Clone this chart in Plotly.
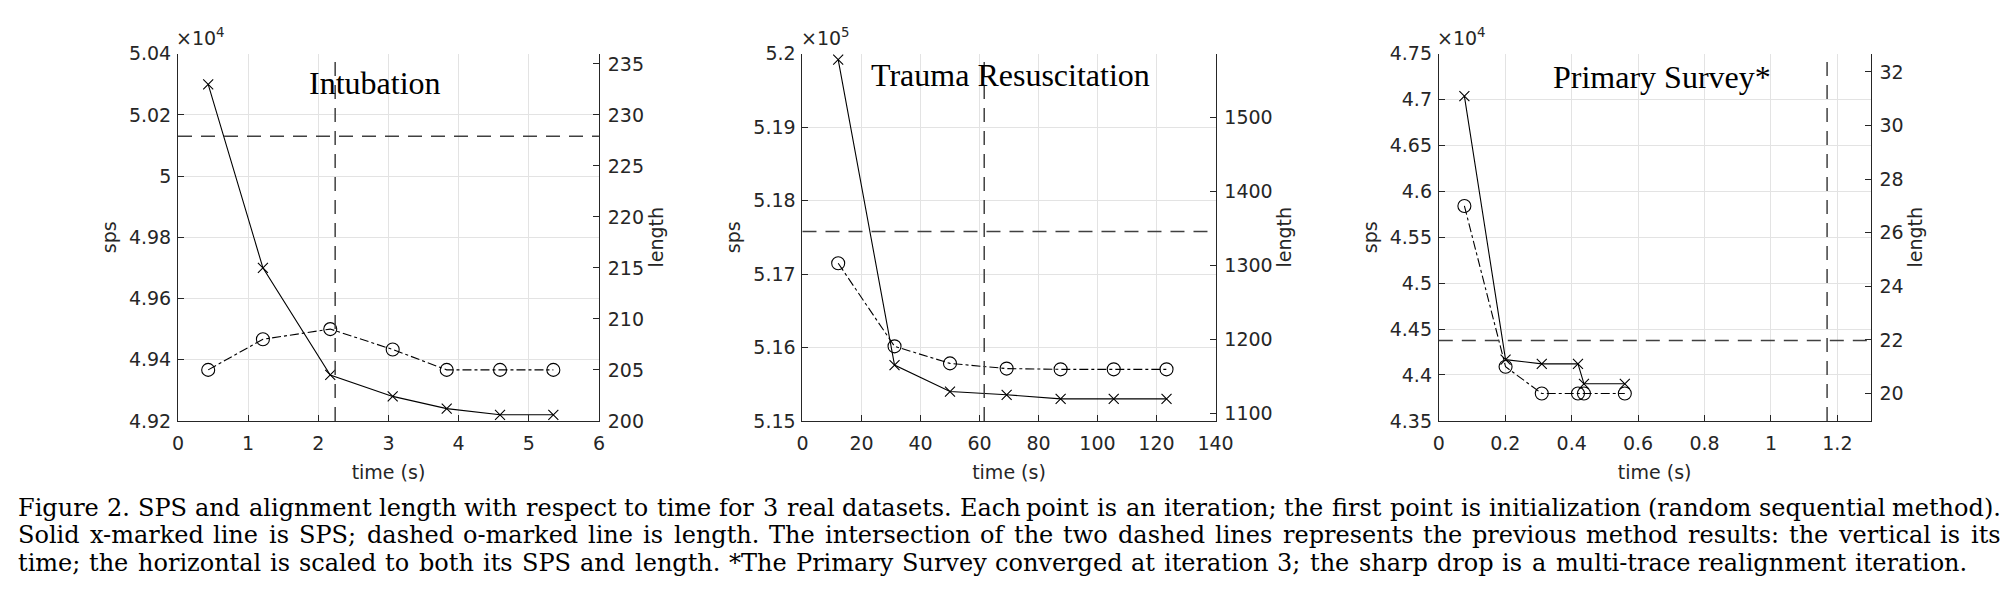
import plotly.graph_objects as go

W, H = 2013, 607

# ---------------- data ----------------
panel_titles = ["Intubation", "Trauma Resuscitation", "Primary Survey*"]
exponents = ["×10<sup>4</sup>", "×10<sup>5</sup>", "×10<sup>4</sup>"]

times1 = [0.43, 1.21, 2.17, 3.06, 3.83, 4.59, 5.35]
sps1 = [50300, 49700, 49350, 49280, 49240, 49220, 49220]
len1 = [205, 208, 209, 207, 205, 205, 205]
prev_time1, prev_sps1, prev_len1 = 2.24, 50130, 228

times2 = [12.1, 31.2, 50.0, 69.2, 87.5, 105.5, 123.4]
sps2 = [519920, 515760, 515400, 515355, 515300, 515300, 515300]
len2 = [1303, 1191, 1168, 1161, 1160, 1160, 1160]
prev_time2, prev_sps2, prev_len2 = 61.6, 517580, 1345

times3 = [0.077, 0.201, 0.310, 0.419, 0.437, 0.560]
sps3 = [47038, 44167, 44121, 44121, 43904, 43904]
len3 = [27, 21, 20, 20, 20, 20]
prev_time3, prev_sps3, prev_len3 = 1.169, 44377, 22

# tick values / labels
x_ticks1 = [0, 1, 2, 3, 4, 5, 6]
x_ticks2 = [0, 20, 40, 60, 80, 100, 120, 140]
x_ticks3 = [0, 0.2, 0.4, 0.6, 0.8, 1.0, 1.2]
x_text3 = ["0", "0.2", "0.4", "0.6", "0.8", "1", "1.2"]

sps_ticks1 = [49200, 49400, 49600, 49800, 50000, 50200, 50400]
sps_text1 = ["4.92", "4.94", "4.96", "4.98", "5", "5.02", "5.04"]
sps_ticks2 = [515000, 516000, 517000, 518000, 519000, 520000]
sps_text2 = ["5.15", "5.16", "5.17", "5.18", "5.19", "5.2"]
sps_ticks3 = [43500, 44000, 44500, 45000, 45500, 46000, 46500, 47000, 47500]
sps_text3 = ["4.35", "4.4", "4.45", "4.5", "4.55", "4.6", "4.65", "4.7", "4.75"]

len_ticks1 = [200, 205, 210, 215, 220, 225, 230, 235]
len_ticks2 = [1100, 1200, 1300, 1400, 1500]
len_ticks3 = [20, 22, 24, 26, 28, 30, 32]

caption_lines = [
    "Figure 2. SPS and alignment length with respect to time for 3 real datasets. Each point is an iteration; the first point is initialization (random sequential method).",
    "Solid x-marked line is SPS; dashed o-marked line is length. The intersection of the two dashed lines represents the previous method results: the vertical is its",
    "time; the horizontal is scaled to both its SPS and length. *The Primary Survey converged at iteration 3; the sharp drop is a multi-trace realignment iteration.",
]

# ---------------- layout geometry (pixels) ----------------
x_px = [(166, 592), (798, 1216), (1442, 1879)]
y_top, y_bot = 36, 417
x_ranges = [[0, 6], [0, 140], [0, 1.3]]
sps_ranges = [[49200, 50400], [515000, 520000], [43500, 47500]]
len_ranges = [[200, 236], [1090.5, 1585.4], [18.98, 32.68]]
title_pos = [(365.7, 66.7), (1008.8, 58), (1668, 60)]
caption_span = [(3, 2009), (3, 2009), (3, 1974)]
caption_y = [507, 535.5, 564]

panels = [
    (times1, sps1, len1, prev_time1, prev_sps1, x_ticks1, [str(v) for v in x_ticks1], sps_ticks1, sps_text1, len_ticks1),
    (times2, sps2, len2, prev_time2, prev_sps2, x_ticks2, [str(v) for v in x_ticks2], sps_ticks2, sps_text2, len_ticks2),
    (times3, sps3, len3, prev_time3, prev_sps3, x_ticks3, x_text3, sps_ticks3, sps_text3, len_ticks3),
]

FONT = "DejaVu Sans, Liberation Sans, Arial, sans-serif"
SERIF = "Liberation Serif, Times New Roman, serif"
CAPFONT = "DejaVu Serif, Liberation Serif, serif"
AX = "#262626"
GRID = "#e3e3e3"
REF = "#404040"

fig = go.Figure()
layout = dict(
    width=W, height=H,
    margin=dict(l=0, r=0, t=0, b=0),
    paper_bgcolor="white", plot_bgcolor="white",
    showlegend=False,
    font=dict(family=FONT, size=19, color=AX),
)

ydom = [1 - y_bot / H, 1 - y_top / H]
annotations = []
shapes = []

for i, (t, s, L, pt, ps, xt, xtt, st, stt, lt) in enumerate(panels):
    n = i + 1
    xa = "x" if n == 1 else f"x{n}"
    yl = "y" if n == 1 else f"y{n}"
    yr = f"y{n + 3}"
    xkey = "xaxis" if n == 1 else f"xaxis{n}"
    ylkey = "yaxis" if n == 1 else f"yaxis{n}"
    yrkey = f"yaxis{n + 3}"

    layout[xkey] = dict(
        domain=[x_px[i][0] / W, x_px[i][1] / W], anchor=yl,
        range=x_ranges[i], tickvals=xt, ticktext=xtt,
        showgrid=True, gridcolor=GRID, gridwidth=1, zeroline=False,
        showline=True, linecolor=AX, linewidth=1,
        ticks="inside", ticklen=6, tickcolor=AX, ticklabelstandoff=5,
        tickfont=dict(size=19, color=AX),
        title=dict(text="time (s)", font=dict(size=19, color=AX), standoff=13),
    )
    layout[ylkey] = dict(
        domain=ydom, anchor=xa, range=sps_ranges[i],
        tickvals=st, ticktext=stt,
        showgrid=True, gridcolor=GRID, gridwidth=1, zeroline=False,
        showline=True, linecolor=AX, linewidth=1,
        ticks="inside", ticklen=6, tickcolor=AX, ticklabelstandoff=2,
        tickfont=dict(size=19, color=AX),
        title=dict(text="sps", font=dict(size=19, color=AX), standoff=7),
    )
    layout[yrkey] = dict(
        domain=ydom, anchor=xa, overlaying=yl, side="right",
        range=len_ranges[i], tickvals=lt,
        showgrid=False, zeroline=False,
        showline=True, linecolor=AX, linewidth=1,
        ticks="inside", ticklen=6, tickcolor=AX, ticklabelstandoff=4,
        tickfont=dict(size=19, color=AX),
        title=dict(text="length", font=dict(size=19, color=AX), standoff=6),
    )

    fig.add_trace(go.Scatter(
        x=t, y=s, xaxis=xa, yaxis=yl, mode="lines+markers",
        line=dict(color="black", width=1.1),
        marker=dict(symbol="x-thin", size=10, line=dict(color="black", width=1.1)),
    ))
    fig.add_trace(go.Scatter(
        x=t, y=L, xaxis=xa, yaxis=yr, mode="lines+markers",
        line=dict(color="black", width=1.1, dash="dashdot"),
        marker=dict(symbol="circle-open", size=13, color="black", line=dict(color="black", width=1.1)),
    ))

    shapes.append(dict(type="line", xref=f"{xa} domain", x0=0, x1=1, yref=yl, y0=ps, y1=ps,
                       line=dict(color=REF, width=1.5, dash="14px,9px")))
    shapes.append(dict(type="line", xref=xa, x0=pt, x1=pt, yref=f"{yl} domain", y0=0, y1=1,
                       line=dict(color=REF, width=1.5, dash="14px,9px")))

    tx, ty = title_pos[i]
    annotations.append(dict(text=panel_titles[i], xref="paper", yref="paper",
                            x=tx / W, y=1 - ty / H, xanchor="center", yanchor="middle",
                            showarrow=False, font=dict(family=SERIF, size=32, color="black")))
    annotations.append(dict(text=exponents[i], xref="paper", yref="paper",
                            x=(x_px[i][0] - 4) / W, y=1 - 33 / H, xanchor="left", yanchor="bottom",
                            showarrow=False, font=dict(size=19, color=AX)))

# ---------------- caption (justified word by word) ----------------
# approximate DejaVu Serif advance widths (em units)
_w = {
    " ": .318, ".": .318, ",": .318, ";": .337, ":": .337, "(": .390, ")": .390, "*": .500,
    "-": .338, "a": .596, "b": .640, "c": .560, "d": .640, "e": .592, "f": .370, "g": .640,
    "h": .644, "i": .320, "j": .310, "k": .606, "l": .320, "m": .948, "n": .644, "o": .602,
    "p": .640, "q": .640, "r": .478, "s": .513, "t": .402, "u": .644, "v": .565, "w": .856,
    "x": .564, "y": .565, "z": .527, "F": .694, "S": .685, "P": .673, "T": .667,
}


def em_width(s):
    return sum(_w.get(c, .636) for c in s)


span1 = caption_span[0][1] - caption_span[0][0]
cap_size = min(24.0, 0.985 * span1 / em_width(caption_lines[0]))

for k, line in enumerate(caption_lines):
    x0, x1 = caption_span[k]
    words = line.split(" ")
    word_w = [em_width(w) for w in words]
    space_w = _w[" "]
    natural = sum(word_w) + space_w * (len(words) - 1)
    extra = ((x1 - x0) / cap_size - natural) / (len(words) - 1)
    pos = 0.0
    for wi, word in enumerate(words):
        xpos = x0 + pos * cap_size
        annotations.append(dict(text=word, xref="paper", yref="paper",
                                x=xpos / W, y=1 - caption_y[k] / H,
                                xanchor="left", yanchor="middle", borderpad=0,
                                showarrow=False, font=dict(family=CAPFONT, size=cap_size, color="black")))
        pos += word_w[wi] + space_w + extra

layout["annotations"] = annotations
layout["shapes"] = shapes
fig.update_layout(**layout)

fig.write_html("out.html")
